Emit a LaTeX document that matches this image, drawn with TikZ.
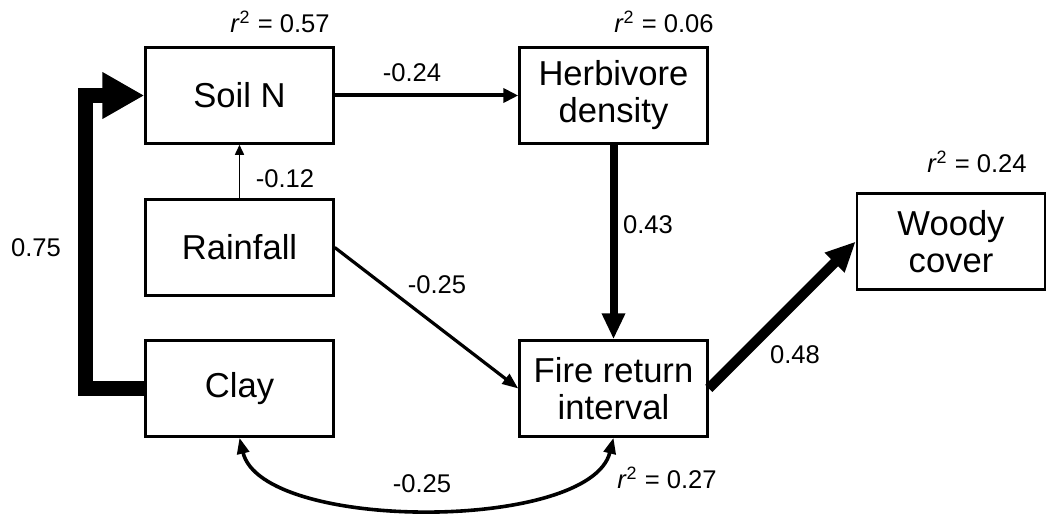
\documentclass[tikz,border=0pt]{standalone}
\usepackage{fontspec}
\setmainfont{Liberation Sans}
\usetikzlibrary{arrows.meta}
\begin{document}
\begin{tikzpicture}[style=thick,x=0.5pt,y=-0.5pt]
\useasboundingbox (0,0) rectangle (1048,519);
\tikzstyle{box}=[draw,shape=rectangle,line width=1.25pt,minimum width=94pt,minimum height=48pt,
  align=center,inner sep=0pt,font=\fontsize{17.3}{18.5}\selectfont]
\tikzstyle{coef} = [font=\fontsize{12.8}{15}\selectfont,inner sep=0pt]
\tikzstyle{path} = [draw,line join=miter]

\draw (239.5,95.5) node[box] (soil) {Soil N};
\draw (613.5,95.5) node[box] (herb) {Herbivore\\density};
\draw (239.5,247.5) node[box] (rain) {Rainfall};
\draw (239.5,388.5) node[box] (clay) {Clay};
\draw (613.5,388.5) node[box] (fire) {Fire return\\interval};
\draw (951,241.5) node[box] (woody) {Woody\\cover};

\draw (280,22) node[coef] (rsoil) {\textit{r}\textsuperscript{2} = 0.57};
\draw (664,22) node[coef] (rherb) {\textit{r}\textsuperscript{2} = 0.06};
\draw (977,162) node[coef] (rwoody) {\textit{r}\textsuperscript{2} = 0.24};
\draw (667,478) node[coef] (rfire) {\textit{r}\textsuperscript{2} = 0.27};

\draw (412,73) node[coef] (wsh) {-0.24};
\draw (285,179) node[coef] (wrs) {-0.12};
\draw (36,248) node[coef] (wcs) {0.75};
\draw (437,285) node[coef] (wrf) {-0.25};
\draw (648,225) node[coef] (whf) {0.43};
\draw (795,355) node[coef] (wfw) {0.48};
\draw (422,484) node[coef] (wcf) {-0.25};

\draw[path,line width=7.5pt,-{Triangle[length=21pt,width=22pt]}] (clay.west) -- ++(-59,0) |- (soil.west);
\draw[path,line width=2pt,-{Triangle[length=7.5pt,width=7pt]}] (soil) -- (herb);
\draw[path,line width=0.75pt,-{Triangle[length=5pt,width=4.5pt]}] (rain) -- (soil);
\draw[path,line width=4pt,-{Triangle[length=13pt,width=11pt]}] (herb) -- (fire);
\draw[path,line width=1.6pt,-{Triangle[length=8pt,width=6pt]}] (rain.east) -- (fire.west);
\draw[path,line width=5pt,-{Triangle[length=15pt,width=13pt]}] (fire.east) -- (woody.west);
\draw[path,line width=1.8pt,{Triangle[length=8pt,width=6pt]}-{Triangle[length=8pt,width=6pt]}]
  (clay.south) .. controls (262,532) and (590,532) .. (fire.south);
\end{tikzpicture}
\end{document}
